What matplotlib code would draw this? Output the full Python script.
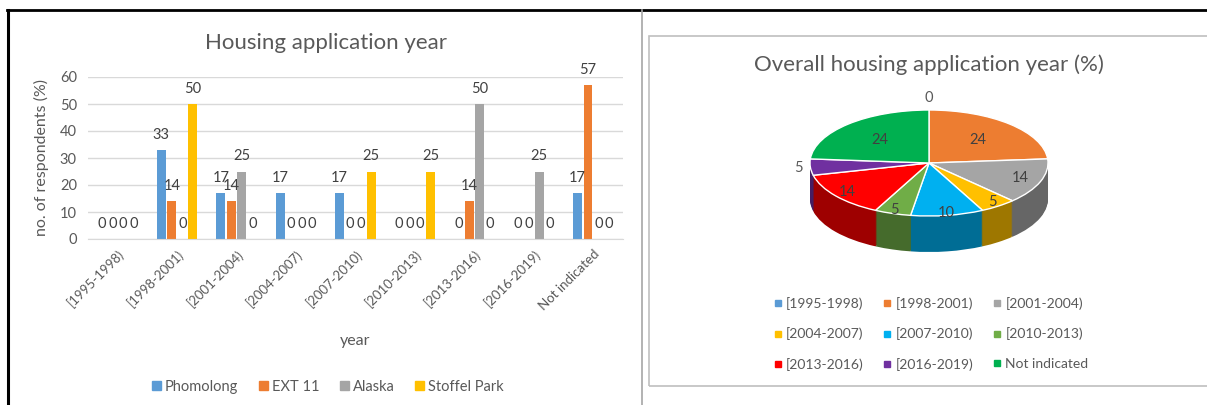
import numpy as np
import matplotlib
matplotlib.use("Agg")
import matplotlib.pyplot as plt
import matplotlib.patches as mpatches
from matplotlib.lines import Line2D

# ---- data ----
periods = ["[1995-1998)", "[1998-2001)", "[2001-2004)", "[2004-2007)",
           "[2007-2010)", "[2010-2013)", "[2013-2016)", "[2016-2019)",
           "Not indicated"]
series_names = ["Phomolong", "EXT 11", "Alaska", "Stoffel Park"]
phomolong = [0, 33, 17, 17, 17, 0, 0, 0, 17]
ext11 = [0, 14, 14, 0, 0, 0, 14, 0, 57]
alaska = [0, 0, 25, 0, 0, 0, 50, 25, 0]
stoffel = [0, 50, 0, 0, 25, 25, 0, 0, 0]

overall_pct = [0, 24, 14, 5, 10, 5, 14, 5, 24]

bar_colors = ["#5B9BD5", "#ED7D31", "#A5A5A5", "#FFC000"]
pie_colors = ["#5B9BD5", "#ED7D31", "#A5A5A5", "#FFC000", "#00B0F0",
              "#70AD47", "#FF0000", "#7030A0", "#00B050"]

TXT = "#595959"
plt.rcParams["font.family"] = ["Lato", "DejaVu Sans"]

W, H = 1207, 405
fig = plt.figure(figsize=(W / 100, H / 100), dpi=100)


def fbox(x0, y0, x1, y1):
    # pixel box (y down) -> figure fraction rect
    return [x0 / W, 1 - y1 / H, (x1 - x0) / W, (y1 - y0) / H]


def px(x, y):
    return x / W, 1 - y / H


# ---- frame lines ----
fig.add_artist(Line2D([px(7, 0)[0], 1], [px(0, 10)[1]] * 2, color="black", lw=2))
fig.add_artist(Line2D([px(8, 0)[0]] * 2, [px(0, 10)[1], 0], color="black", lw=2.2))
fig.add_artist(Line2D([px(642, 0)[0]] * 2, [px(0, 10)[1], 0], color="#a6a6a6", lw=1.2))
fig.add_artist(mpatches.Rectangle(px(649, 386), (W + 10 - 649) / W, (386 - 36) / H,
                                  transform=fig.transFigure, fill=False,
                                  edgecolor="#bfbfbf", lw=1.2))

# ---- left: grouped bars ----
ax = fig.add_axes(fbox(88, 77, 623, 239))
x = np.arange(len(periods))
pitch, width = 0.177, 0.15
all_series = [phomolong, ext11, alaska, stoffel]
for i, (name, vals) in enumerate(zip(series_names, all_series)):
    bars = ax.bar(x + (i - 1.5) * pitch, vals, width, color=bar_colors[i], label=name)
    ax.bar_label(bars, padding=6, fontsize=10.5, color="#404040")

ax.set_xlim(-0.5, len(periods) - 0.5)
ax.set_ylim(0, 60)
ax.set_yticks(range(0, 61, 10))
ax.grid(axis="y", color="#d9d9d9", lw=1)
ax.set_axisbelow(True)
for s in ("top", "right", "left"):
    ax.spines[s].set_visible(False)
ax.spines["bottom"].set_color("#d9d9d9")
ax.tick_params(length=0, colors=TXT, labelsize=10.5)
ax.tick_params(axis="x", labelsize=9.5, pad=6)
ax.tick_params(axis="y", pad=8)
ax.set_xticks(x)
ax.set_xticklabels(periods, rotation=45, ha="right", rotation_mode="anchor")
ax.set_xlabel("year", fontsize=11.5, color=TXT, labelpad=16)
ax.set_ylabel("no. of respondents (%)", fontsize=11.5, color=TXT, labelpad=8)
fig.text(*px(326, 43), "Housing application year", ha="center", va="center",
         fontsize=16, color=TXT)
handles = [mpatches.Patch(color=c, label=n) for c, n in zip(bar_colors, series_names)]
fig.legend(handles=handles, loc="center", bbox_to_anchor=px(328, 387), ncol=4,
           frameon=False, fontsize=10.5, handlelength=0.6, handleheight=0.6,
           handletextpad=0.3, columnspacing=1.4, labelcolor=TXT)

# ---- right: pseudo-3D pie ----
cx, cy = 929, 163          # pixel centre of top face
rx, ry = 119, 53           # pixel radii of top face
depth = 36                 # pixel thickness
ax_l, ax_r, ax_t, ax_b = 760, 1100, 85, 290
pax = fig.add_axes(fbox(ax_l, ax_t, ax_r, ax_b))

side_colors = [tuple(np.array(matplotlib.colors.to_rgb(c)) * 0.62) for c in pie_colors]
n_layers = 36
for k in range(n_layers, 0, -1):
    off = -depth / ry * k / n_layers
    pax.pie(overall_pct, colors=side_colors, startangle=90, counterclock=False,
            center=(0, off), radius=1, wedgeprops=dict(linewidth=0))
pax.pie(overall_pct, colors=pie_colors, startangle=90, counterclock=False,
        center=(0, 0), radius=1, wedgeprops=dict(edgecolor="white", linewidth=1))
pax.set_aspect("auto")
pax.set_xlim((ax_l - cx) / rx, (ax_r - cx) / rx)
pax.set_ylim(-(ax_b - cy) / ry, (cy - ax_t) / ry)
pax.axis("off")

total = sum(overall_pct)
start = 90.0
for v in overall_pct:
    span = v / total * 360
    mid = np.deg2rad(start - span / 2)
    start -= span
    outside = v == 0 or (v < 6 and np.sin(mid) > -0.3)
    if outside:
        r = 1.22 if v == 0 else 1.1
        col = TXT
    else:
        r = 0.75 - 0.2 * np.sin(mid)
        col = "#404040"
    pax.text(r * np.cos(mid), r * np.sin(mid), str(v),
             ha="center", va="center", fontsize=10.5, color=col)

fig.text(*px(929, 65), "Overall housing application year (%)", ha="center",
         va="center", fontsize=16, color=TXT)

order = [0, 3, 6, 1, 4, 7, 2, 5, 8]
pie_handles = [Line2D([], [], marker="s", ls="none", markersize=4,
                      color=pie_colors[i], label=periods[i]) for i in order]
fig.legend(handles=pie_handles, loc="center", bbox_to_anchor=px(931, 334), ncol=3,
           frameon=False, fontsize=10, handlelength=0.6, handletextpad=0.3,
           columnspacing=1.4, labelspacing=1.25, labelcolor=TXT)

fig.savefig("out.png", dpi=100)
